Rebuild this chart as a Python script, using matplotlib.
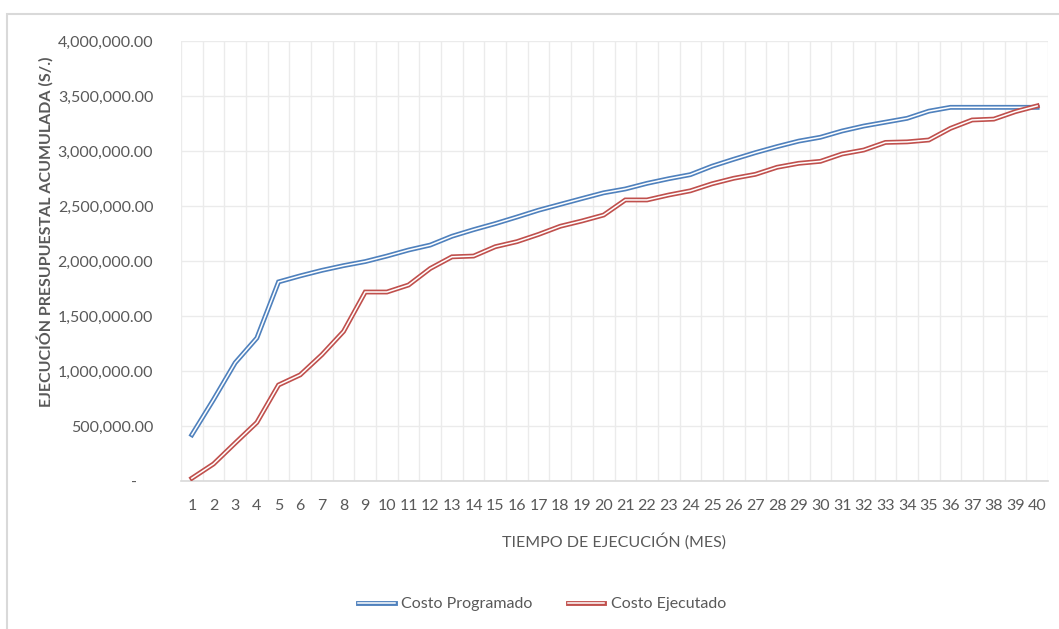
import matplotlib
matplotlib.use("Agg")
import matplotlib.pyplot as plt
import matplotlib.patheffects as pe
from matplotlib.ticker import FuncFormatter, MultipleLocator, FixedLocator
from matplotlib.patches import Rectangle

meses = list(range(1, 41))
costo_programado = [
    420000, 740000, 1075000, 1300000, 1810000, 1865000, 1915000, 1958000, 1995000, 2045000,
    2100000, 2145000, 2225000, 2285000, 2340000, 2400000, 2462000, 2515000, 2568000, 2620000,
    2655000, 2706000, 2748000, 2785000, 2862000, 2925000, 2985000, 3040000, 3090000, 3125000,
    3182000, 3227000, 3262000, 3297000, 3362000, 3397000, 3397000, 3397000, 3397000, 3397000,
]
costo_ejecutado = [
    25000, 155000, 345000, 532000, 873000, 965000, 1148000, 1360000, 1718000, 1718000,
    1782000, 1932000, 2038000, 2045000, 2130000, 2176000, 2242000, 2316000, 2364000, 2418000,
    2555000, 2555000, 2600000, 2638000, 2702000, 2752000, 2788000, 2852000, 2888000, 2906000,
    2973000, 3009000, 3078000, 3083000, 3100000, 3206000, 3282000, 3290000, 3358000, 3410000,
]
serie_nombres = ["Costo Programado", "Costo Ejecutado"]
titulo_x = "TIEMPO DE EJECUCIÓN (MES)"
titulo_y = "EJECUCIÓN PRESUPUESTAL ACUMULADA (S/.)"

azul = "#4F81BD"
rojo = "#C0504D"
gris = "#595959"

plt.rcParams["font.family"] = ["Lato", "DejaVu Sans"]

W, H = 1059, 629
fig = plt.figure(figsize=(W / 100, H / 100), dpi=100)
fig.patches.append(Rectangle((7 / W, -0.01), 1.0, 1 - 14 / H + 0.01, transform=fig.transFigure,
                             fill=False, edgecolor="#D9D9D9", linewidth=1.5))

ax = fig.add_axes([181 / W, 1 - 481 / H, (1048 - 181) / W, (481 - 41) / H])

for vals, col, name in [(costo_programado, azul, serie_nombres[0]),
                        (costo_ejecutado, rojo, serie_nombres[1])]:
    ax.plot(meses, vals, color="white", linewidth=1.1, label=name, solid_joinstyle="miter",
            path_effects=[pe.Stroke(linewidth=3.5, foreground=col), pe.Normal()], zorder=3)

ax.set_xlim(0.5, 40.5)
ax.set_ylim(0, 4000000)
ax.yaxis.set_major_locator(MultipleLocator(500000))
ax.xaxis.set_major_locator(FixedLocator(meses))
ax.xaxis.set_minor_locator(FixedLocator([m + 0.5 for m in range(0, 41)]))

def fmt(v, pos):
    if abs(v) < 1:
        return "-    "
    return f"{v:,.2f}"

ax.yaxis.set_major_formatter(FuncFormatter(fmt))
ax.grid(True, axis="y", which="major", color="#EBEBEB", linewidth=1.0)
ax.grid(True, axis="x", which="minor", color="#EBEBEB", linewidth=1.0)
ax.grid(False, axis="x", which="major")
ax.set_axisbelow(True)
for s in ["top", "right", "left"]:
    ax.spines[s].set_visible(False)
ax.spines["bottom"].set_color("#D9D9D9")
ax.spines["bottom"].set_linewidth(1.2)
ax.tick_params(axis="both", which="both", length=0, colors=gris, labelsize=11.5)
ax.tick_params(axis="y", pad=20)
ax.tick_params(axis="x", pad=13)

ax.set_xlabel(titulo_x, fontsize=11.5, color=gris, labelpad=14)
fig.text(45 / W, 1 - 232 / H, titulo_y, rotation=90, ha="center", va="center",
         fontsize=11.5, fontweight="bold", color=gris)

leg = fig.legend(loc="center", bbox_to_anchor=(542 / W, 1 - 604 / H), ncol=2, frameon=False,
                 fontsize=11.5, handlelength=2.3, columnspacing=2.2, handletextpad=0.4)
for t in leg.get_texts():
    t.set_color(gris)

fig.savefig("out.png", dpi=100)
